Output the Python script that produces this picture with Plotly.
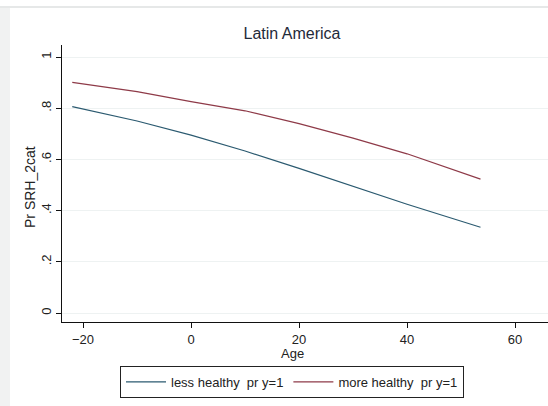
import plotly.graph_objects as go

age = [-22, -10, 0, 10, 20, 30, 40, 53.6]
less_healthy = [0.806, 0.75, 0.695, 0.633, 0.565, 0.495, 0.425, 0.335]
more_healthy = [0.901, 0.865, 0.826, 0.79, 0.74, 0.683, 0.622, 0.523]

y_ticks = [0, 0.2, 0.4, 0.6, 0.8, 1]
y_ticktext = ["0", ".2", ".4", ".6", ".8", "1"]
x_ticks = [-20, 0, 20, 40, 60]

W, H = 548, 406
L, R, T, B = 62, 0, 45, 84
pw, ph = W - L - R, H - T - B

def px_x(p):
    return (p - L) / pw

def px_y(p):
    return (H - B - p) / ph

fig = go.Figure()
fig.add_trace(go.Scatter(x=age, y=less_healthy, mode="lines", name="less healthy  pr y=1",
                         line=dict(color="#2b5a70", width=1.2)))
fig.add_trace(go.Scatter(x=age, y=more_healthy, mode="lines", name="more healthy  pr y=1",
                         line=dict(color="#8e3a48", width=1.2)))

font = "Liberation Sans, Arial, sans-serif"
fig.update_layout(
    width=W, height=H,
    margin=dict(l=L, r=R, t=T, b=B, autoexpand=False),
    paper_bgcolor="white", plot_bgcolor="white",
    font=dict(family=font, size=13, color="#222222"),
    title=dict(text="Latin America", x=292 / W, xanchor="center", xref="container",
               y=1 - 33 / H, yanchor="middle", yref="container",
               font=dict(size=16, color="#1f2a3a")),
    xaxis=dict(range=[-23.9, 66.1], tickvals=x_ticks, showgrid=False, zeroline=False,
               showline=True, linecolor="#111111", linewidth=1, automargin=False,
               ticks="outside", ticklen=5, tickcolor="#111111",
               tickfont=dict(size=13)),
    yaxis=dict(range=[-0.035, 1.047], tickvals=y_ticks, ticktext=y_ticktext,
               tickangle=-90, showgrid=True, gridcolor="#eef2f2", gridwidth=1,
               zeroline=False, showline=True, linecolor="#111111", linewidth=1,
               automargin=False,
               ticks="outside", ticklen=5, tickcolor="#111111",
               tickfont=dict(size=13)),
    legend=dict(orientation="h", xref="container", yref="container",
                x=292 / W, xanchor="center", y=1 - 366 / H, yanchor="top",
                bordercolor="#222222", borderwidth=1, bgcolor="white",
                font=dict(size=13, color="#222222"), itemwidth=40,
                tracegroupgap=0),
    showlegend=True,
    annotations=[
        dict(text="Age", xref="paper", yref="paper", x=px_x(292), y=px_y(353.5),
             xanchor="center", yanchor="middle", showarrow=False,
             font=dict(size=13, color="#222222")),
        dict(text="Pr SRH_2cat", xref="paper", yref="paper", x=px_x(30), y=px_y(187),
             xanchor="center", yanchor="middle", showarrow=False, textangle=-90,
             font=dict(size=14, color="#222222")),
    ],
)

# window frame decoration (light grey bands of the screenshot)
fig.add_shape(type="rect", xref="paper", yref="paper",
              x0=px_x(0), x1=px_x(10), y0=px_y(H), y1=px_y(8),
              fillcolor="#f1f2f2", line=dict(width=0), layer="below")
fig.add_shape(type="line", xref="paper", yref="paper",
              x0=px_x(0), x1=px_x(W), y0=px_y(7), y1=px_y(7),
              line=dict(color="#e6e8e8", width=2), layer="below")

fig.write_html("out.html", config={"displayModeBar": False},
               post_script="document.body.style.margin='0';document.body.style.overflow='hidden';")
